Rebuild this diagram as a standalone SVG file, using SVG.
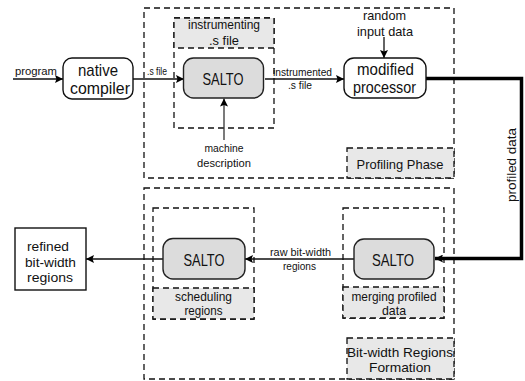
<svg xmlns="http://www.w3.org/2000/svg" width="525" height="381" viewBox="0 0 525 381">
<style>
text{font-family:"Liberation Sans",Arial,sans-serif;fill:#111;text-anchor:middle}
.big{font-size:17px}
.mid{font-size:13.5px}
.sm{font-size:11px}
.phase{fill:none;stroke:#111;stroke-width:1.3;stroke-dasharray:6 4}
.lbl{fill:#e8e8e8;stroke:#111;stroke-width:1.3;stroke-dasharray:6 4}
.node{fill:#fff;stroke:#111;stroke-width:1.4}
.salto{fill:#dcdcdc;stroke:#222;stroke-width:1.4}
.conn{fill:none;stroke:#111;stroke-width:1.3;marker-end:url(#ah)}
.thick{fill:none;stroke:#000;stroke-width:3.5;marker-end:url(#ah)}
</style>
<defs>
<marker id="ah" markerUnits="userSpaceOnUse" markerWidth="9" markerHeight="8" refX="8" refY="4" orient="auto">
<path d="M0,0 L8,4 L0,8 L1.5,4 Z" fill="#000"/>
</marker>
</defs>
<rect width="525" height="381" fill="#fff"/>

<g id="profiling-phase">
<rect class="phase" x="144" y="8" width="310" height="170"/>
<rect class="lbl" x="347" y="148" width="107" height="30"/>
<text class="mid" x="400" y="168.5" textLength="87" lengthAdjust="spacingAndGlyphs">Profiling Phase</text>
</g>

<g id="bitwidth-formation">
<rect class="phase" x="144" y="188" width="310" height="191"/>
<rect class="lbl" x="347" y="338" width="107" height="41"/>
<text class="mid" x="400" y="356.5" textLength="106" lengthAdjust="spacingAndGlyphs">Bit-width Regions</text>
<text class="mid" x="400" y="372" textLength="62" lengthAdjust="spacingAndGlyphs">Formation</text>
</g>

<g id="instrumenting-group">
<rect class="phase" x="174" y="18" width="100" height="110"/>
<rect class="lbl" x="174" y="18" width="100" height="30"/>
<text class="mid" x="224" y="29" textLength="72" lengthAdjust="spacingAndGlyphs">instrumenting</text>
<text class="mid" x="224" y="45" textLength="30" lengthAdjust="spacingAndGlyphs">.s file</text>
</g>

<g id="scheduling-group">
<rect class="phase" x="153" y="208" width="101" height="111"/>
<rect class="lbl" x="153" y="288" width="101" height="31"/>
<text class="mid" x="203.5" y="300.5" textLength="57" lengthAdjust="spacingAndGlyphs">scheduling</text>
<text class="mid" x="203.5" y="314.5" textLength="38" lengthAdjust="spacingAndGlyphs">regions</text>
</g>

<g id="merging-group">
<rect class="phase" x="343" y="208" width="101" height="110"/>
<rect class="lbl" x="343" y="287" width="101" height="31"/>
<text class="mid" x="394" y="300.5" textLength="85" lengthAdjust="spacingAndGlyphs">merging profiled</text>
<text class="mid" x="394" y="315" textLength="24" lengthAdjust="spacingAndGlyphs">data</text>
</g>

<g id="connectors">
<path class="conn" d="M13,79 H63"/>
<path class="conn" d="M133,79 H184"/>
<path class="conn" d="M224,140 V98.5" style="stroke:#333"/>
<path class="conn" d="M265,79 H344"/>
<path class="conn" d="M384,37 V58"/>
<path class="thick" d="M426,78.5 H521.5 V258.5 H435"/>
<path class="conn" d="M354,259 H245"/>
<path class="conn" d="M163,259 H86"/>
</g>

<g id="connector-labels">
<text class="sm" x="36" y="74.5" textLength="42" lengthAdjust="spacingAndGlyphs">program</text>
<text class="sm" x="157" y="74.5" textLength="20" lengthAdjust="spacingAndGlyphs">.s file</text>
<text class="sm" x="224" y="151.5" textLength="39" lengthAdjust="spacingAndGlyphs">machine</text>
<text class="sm" x="224" y="166.5" textLength="54" lengthAdjust="spacingAndGlyphs">description</text>
<text class="mid" x="384.5" y="19.5" textLength="43" lengthAdjust="spacingAndGlyphs">random</text>
<text class="mid" x="385" y="36" textLength="56" lengthAdjust="spacingAndGlyphs">input data</text>
<text class="sm" x="302.5" y="75.5" textLength="59" lengthAdjust="spacingAndGlyphs">instrumented</text>
<text class="sm" x="300" y="89" textLength="24" lengthAdjust="spacingAndGlyphs">.s file</text>
<text class="mid" x="0" y="0" transform="translate(515.5,165) rotate(-90)" textLength="74" lengthAdjust="spacingAndGlyphs">profiled data</text>
<text class="sm" x="300.5" y="255.5" textLength="61" lengthAdjust="spacingAndGlyphs">raw bit-width</text>
<text class="sm" x="299.5" y="269.5" textLength="33" lengthAdjust="spacingAndGlyphs">regions</text>
</g>

<g id="native-compiler">
<rect class="node" x="63" y="58" width="70" height="41" rx="9"/>
<text class="big" x="98" y="75.5" textLength="40" lengthAdjust="spacingAndGlyphs">native</text>
<text class="big" x="100" y="93.5" textLength="60" lengthAdjust="spacingAndGlyphs">compiler</text>
</g>

<g id="salto-instrument">
<rect class="salto" x="183.5" y="58" width="80" height="40" rx="10"/>
<text class="big" x="223" y="84.5" textLength="41" lengthAdjust="spacingAndGlyphs">SALTO</text>
</g>

<g id="modified-processor">
<rect class="node" x="344" y="58" width="82" height="40" rx="10"/>
<text class="big" x="385.5" y="74.5" textLength="57" lengthAdjust="spacingAndGlyphs">modified</text>
<text class="big" x="384.5" y="92.5" textLength="63" lengthAdjust="spacingAndGlyphs">processor</text>
</g>

<g id="salto-merging">
<rect class="salto" x="354" y="239" width="80" height="40" rx="10"/>
<text class="big" x="393" y="265.5" textLength="42" lengthAdjust="spacingAndGlyphs">SALTO</text>
</g>

<g id="salto-scheduling">
<rect class="salto" x="163" y="238.5" width="82" height="40.5" rx="10"/>
<text class="big" x="204" y="265.5" textLength="41" lengthAdjust="spacingAndGlyphs">SALTO</text>
</g>

<g id="refined-regions">
<rect class="node" x="15" y="228" width="71" height="62"/>
<text class="mid" x="48" y="250.5" textLength="42" lengthAdjust="spacingAndGlyphs">refined</text>
<text class="mid" x="50.5" y="266.5" textLength="51" lengthAdjust="spacingAndGlyphs">bit-width</text>
<text class="mid" x="50" y="281.5" textLength="46" lengthAdjust="spacingAndGlyphs">regions</text>
</g>
</svg>
